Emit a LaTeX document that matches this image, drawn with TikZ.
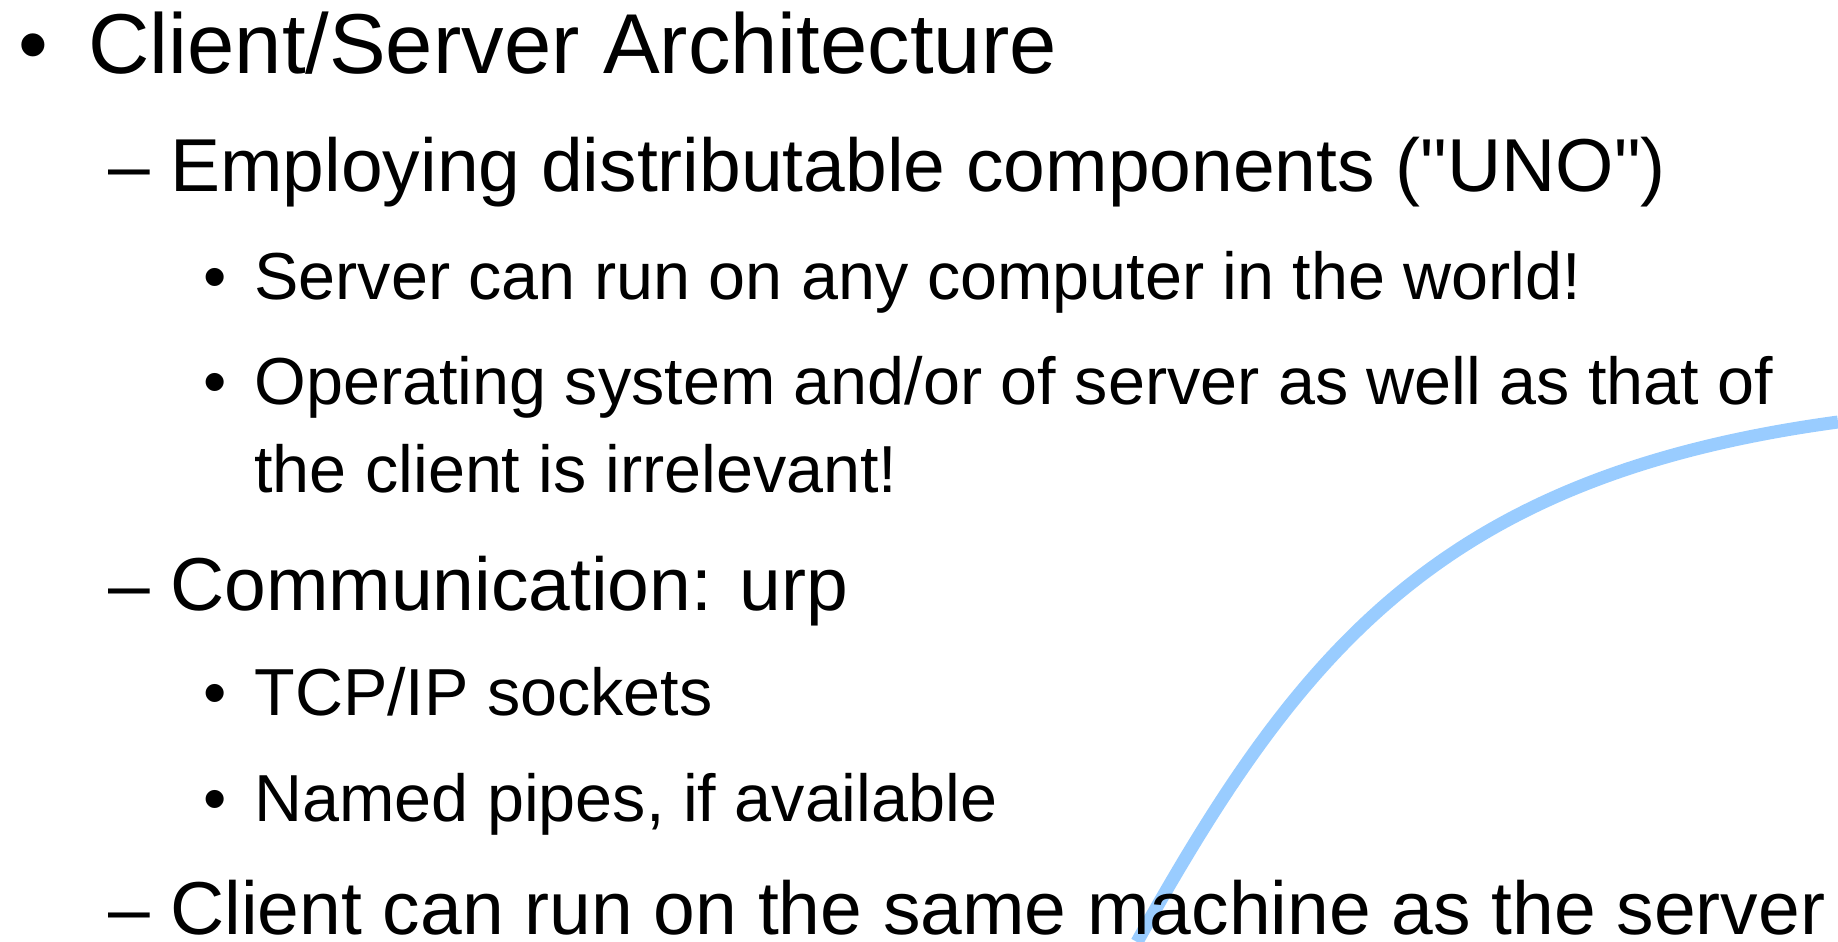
\documentclass[tikz,border=0pt]{standalone}
\usepackage{fontspec}
\setmainfont{Liberation Sans}[Ligatures=TeXOff]
\definecolor{arcblue}{HTML}{99CCFF}

\begin{document}
\begin{tikzpicture}[x=0.5pt,y=-0.5pt,
		lvlone/.style={anchor=base west,inner sep=0pt,font=\fontsize{42.5}{50}\selectfont},
		lvltwo/.style={anchor=base west,inner sep=0pt,font=\fontsize{37.5}{44}\selectfont},
		lvlthree/.style={anchor=base west,inner sep=0pt,font=\fontsize{33.25}{40}\selectfont},
		dot/.style={anchor=base,inner sep=0pt}]
	\useasboundingbox (0,0) rectangle (1838,942);
	% background arc, cut at the page edge
	\begin{scope}
		\clip (0,0) rectangle (1838,942);
		\draw[arcblue,line width=6.5pt] (1137,942) .. controls (1300,650) and (1440,476) .. (1838,422);
	\end{scope}
	%
	\node[lvlone,dot] (b1) at (33,73) {•};
	\node[lvlone] (arch) at (88,73) {Client/Server Architecture};
	%
	\node[lvltwo] (d1) at (108,191) {–};
	\node[lvltwo] (uno) at (170,191) {Employing distributable components ("UNO")};
	\node[lvlthree,dot] (b2) at (215,299) {•};
	\node[lvlthree] (world) at (254,299) {Server can run on any computer in the world!};
	\node[lvlthree,dot] (b3) at (215,404) {•};
	\node[lvlthree] (os) at (254,404) {Operating system and/or of server as well as that of};
	\node[lvlthree] (osb) at (254,492) {the client is irrelevant!};
	%
	\node[lvltwo] (d2) at (108,610) {–};
	\node[lvltwo] (urp) at (170,610) {Communication: urp};
	\node[lvlthree,dot] (b4) at (215,715) {•};
	\node[lvlthree] (tcp) at (254,715) {TCP/IP sockets};
	\node[lvlthree,dot] (b5) at (215,821) {•};
	\node[lvlthree] (pipes) at (254,821) {Named pipes, if available};
	%
	\node[lvltwo] (d3) at (108,934) {–};
	\node[lvltwo] (same) at (170,934) {Client can run on the same machine as the server};
\end{tikzpicture}
\end{document}
